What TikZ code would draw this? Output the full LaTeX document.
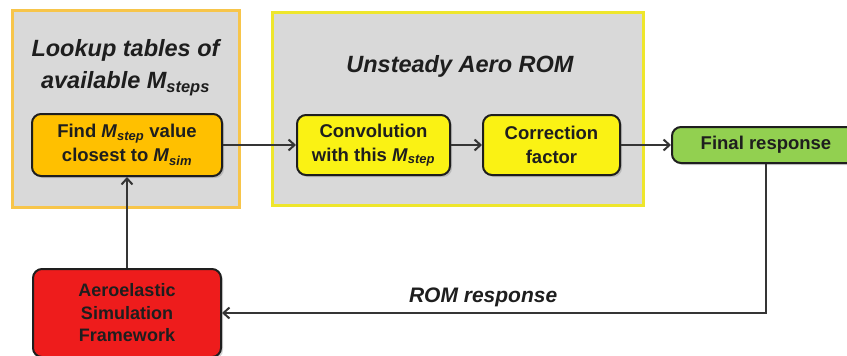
\documentclass[tikz,border=0pt]{standalone}
\usepackage{fontspec}
\setmainfont{Liberation Sans}
\usepackage{tikz}
\usetikzlibrary{positioning, arrows.meta, shadows}
\usepackage{xcolor}

\definecolor{groupgray}{HTML}{D9D9D9}
\definecolor{lookorange}{HTML}{F7C54A}
\definecolor{romborder}{HTML}{EEE62C}
\definecolor{findorange}{HTML}{FFC000}
\definecolor{romyellow}{HTML}{FAF214}
\definecolor{finalgreen}{HTML}{92D050}
\definecolor{aerored}{HTML}{EE1C1C}
\definecolor{inkdark}{HTML}{1E1E1E}

\newcommand{\Msub}[1]{\textit{M}\textsubscript{\textit{#1}}}

\tikzset{
  group/.style={draw, line width=3pt, fill=groupgray, inner sep=0pt},
  grouptitle/.style={align=center, text=inkdark, font=\bfseries\itshape\fontsize{23.5}{32}\selectfont},
  box/.style={draw=inkdark, line width=2pt, rounded corners=9pt, align=center, text=inkdark,
    font=\bfseries\fontsize{18.5}{24}\selectfont,
    drop shadow={opacity=0.35, shadow xshift=2pt, shadow yshift=-2pt}},
  link/.style={->, draw=inkdark!90, line width=2pt}
}

\begin{document}
\begin{tikzpicture}[x=1pt, y=-1pt, >={Straight Barb[length=6pt, width=11pt]}, on grid]
  \useasboundingbox (0,0) rectangle (847,356);
  \clip (0,0) rectangle (847,356);

  % group frames
  \node[group, draw=lookorange, minimum width=227pt, minimum height=197pt] (lookup) at (125.5,108.5) {};
  \node[group, draw=romborder, minimum width=371pt, minimum height=193pt] (rom) at (457.5,108.5) {};
  \node[grouptitle] (looktitle) at (125.5,68) {Lookup tables of\\available \Msub{steps}};
  \node[grouptitle] (romtitle) at (460,66) {Unsteady Aero ROM};

  % blocks
  \node[box, fill=findorange, minimum width=190pt, minimum height=62pt] (find) at (127,145)
    {Find \Msub{step} value\\closest to \Msub{sim}};
  \node[box, fill=romyellow, minimum width=153pt, minimum height=60pt, right=246.5pt of find] (conv)
    {Convolution\\with this \Msub{step}};
  \node[box, fill=romyellow, minimum width=137pt, minimum height=60pt, right=178pt of conv] (corr)
    {Correction\\factor};
  \node[box, fill=finalgreen, minimum width=188pt, minimum height=36pt, right=214.5pt of corr] (final)
    {Final response};
  \node[box, fill=aerored, minimum width=188pt, minimum height=88pt, below=168pt of find,
    font=\bfseries\fontsize{18}{22.5}\selectfont] (aero)
    {Aeroelastic\\Simulation\\Framework};

  % connectors
  \draw[link] (find) -- (conv);
  \draw[link] (conv) -- (corr);
  \draw[link] (corr) -- (final);
  \draw[link] (final.south) |- node[pos=0.76, above=2pt, font=\bfseries\itshape\fontsize{21}{25}\selectfont, text=inkdark] {ROM response} (aero.east);
  \draw[link] (aero) -- (find);
\end{tikzpicture}
\end{document}
